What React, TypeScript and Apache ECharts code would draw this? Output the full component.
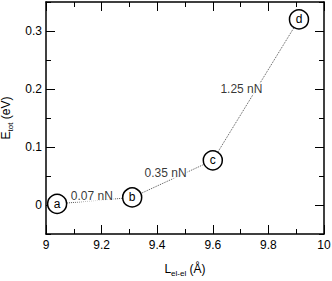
import React, { useEffect, useRef } from "react";
import * as echarts from "echarts";

const pointX = [9.04, 9.31, 9.6, 9.91];
const pointY = [0.002, 0.013, 0.077, 0.32];
const pointNames = ["a", "b", "c", "d"];

const annotX = [9.165, 9.43, 9.703];
const annotY = [0.016, 0.056, 0.2];
const annotText = ["0.07 nN", "0.35 nN", "1.25 nN"];

const yMajorTicks = [0, 0.1, 0.2, 0.3];
const yTickLabels = ["0", "0.1", "0.2", "0.3"];

const FONT = "'Liberation Sans', Arial, Helvetica, sans-serif";

export default function App() {
  const ref = useRef<HTMLDivElement>(null);
  useEffect(() => {
    if (!ref.current) return;
    const chart = echarts.init(ref.current, null, { renderer: "svg" });
    const lineStyle = { color: "#000", width: 1.5 };
    const xCommon = {
      type: "value" as const,
      min: 9,
      max: 10,
      interval: 0.2,
      axisLine: { show: true, onZero: false, lineStyle },
      axisTick: { show: true, inside: true, length: 9, lineStyle: { color: "#000", width: 1 } },
      minorTick: { show: true, splitNumber: 2, length: 5, lineStyle: { color: "#000", width: 1 } },
      splitLine: { show: false },
      minorSplitLine: { show: false },
    };
    const yMinor = {
      type: "value" as const,
      min: -0.05,
      max: 0.35,
      interval: 0.05,
      axisLine: { show: true, onZero: false, lineStyle },
      axisTick: { show: true, inside: true, length: 5, lineStyle: { color: "#000", width: 1 } },
      axisLabel: { show: false },
      splitLine: { show: false },
    };
    const yMajor = {
      type: "value" as const,
      min: -0.05,
      max: 0.35,
      interval: 0.05,
      axisLine: { show: false, onZero: false },
      axisTick: {
        show: true,
        inside: true,
        length: 9,
        customValues: yMajorTicks,
        lineStyle: { color: "#000", width: 1 },
      },
      splitLine: { show: false },
    };
    const richName = {
      m: { fontSize: 12, fontFamily: FONT, color: "#000", lineHeight: 14, verticalAlign: "top" as const },
      s: { fontSize: 8, fontFamily: FONT, color: "#000", lineHeight: 14, verticalAlign: "bottom" as const, padding: [3, 0, 0, 0] },
    };
    chart.setOption({
      animation: false,
      grid: { left: 46, right: 8, top: 2, bottom: 47, containLabel: false, outerBoundsMode: "none" },
      xAxis: [
        {
          ...xCommon,
          position: "bottom",
          axisLabel: { show: true, color: "#000", fontSize: 12, fontFamily: FONT, margin: 5 },
          name: "{m|L}{s|el-el}{m| (Å)}",
          nameLocation: "middle",
          nameGap: 29,
          nameTextStyle: { rich: richName },
        },
        { ...xCommon, position: "top", axisLabel: { show: false } },
      ],
      yAxis: [
        {
          ...yMajor,
          position: "left",
          axisLabel: {
            show: true,
            customValues: yMajorTicks,
            formatter: (v: number) => {
              const i = yMajorTicks.findIndex((t) => Math.abs(t - v) < 1e-6);
              return i >= 0 ? yTickLabels[i] : "";
            },
            color: "#000",
            fontSize: 12,
            fontFamily: FONT,
            margin: 4,
          },
          name: "{m|E}{s|tot}{m| (eV)}",
          nameLocation: "middle",
          nameGap: 28,
          nameRotate: 90,
          nameTextStyle: { rich: richName },
        },
        { ...yMajor, position: "right", axisLabel: { show: false } },
        { ...yMinor, position: "left" },
        { ...yMinor, position: "right" },
      ],
      series: [
        {
          type: "line",
          xAxisIndex: 0,
          yAxisIndex: 0,
          data: pointX.map((x, i) => [x, pointY[i], pointNames[i]]),
          symbol: "circle",
          symbolSize: 19,
          itemStyle: { color: "#fff", borderColor: "#000", borderWidth: 1.5 },
          lineStyle: { color: "#555", width: 1, type: "dotted" },
          label: {
            show: true,
            position: "inside",
            formatter: (p: any) => p.data[2],
            color: "#000",
            fontSize: 12,
            fontFamily: FONT,
          },
          z: 3,
        },
        {
          type: "scatter",
          xAxisIndex: 0,
          yAxisIndex: 0,
          data: annotX.map((x, i) => [x, annotY[i], annotText[i]]),
          symbolSize: 1,
          itemStyle: { color: "rgba(0,0,0,0)" },
          label: {
            show: true,
            position: "inside",
            formatter: (p: any) => p.data[2],
            color: "#000",
            fontSize: 12,
            fontFamily: FONT,
            backgroundColor: "#fff",
            padding: [0, 1],
          },
          z: 4,
        },
      ],
    });
    return () => chart.dispose();
  }, []);
  return (
    <div
      ref={ref}
      style={{ position: "absolute", left: 0, top: 0, width: 332, height: 281, background: "#fff" }}
    />
  );
}
